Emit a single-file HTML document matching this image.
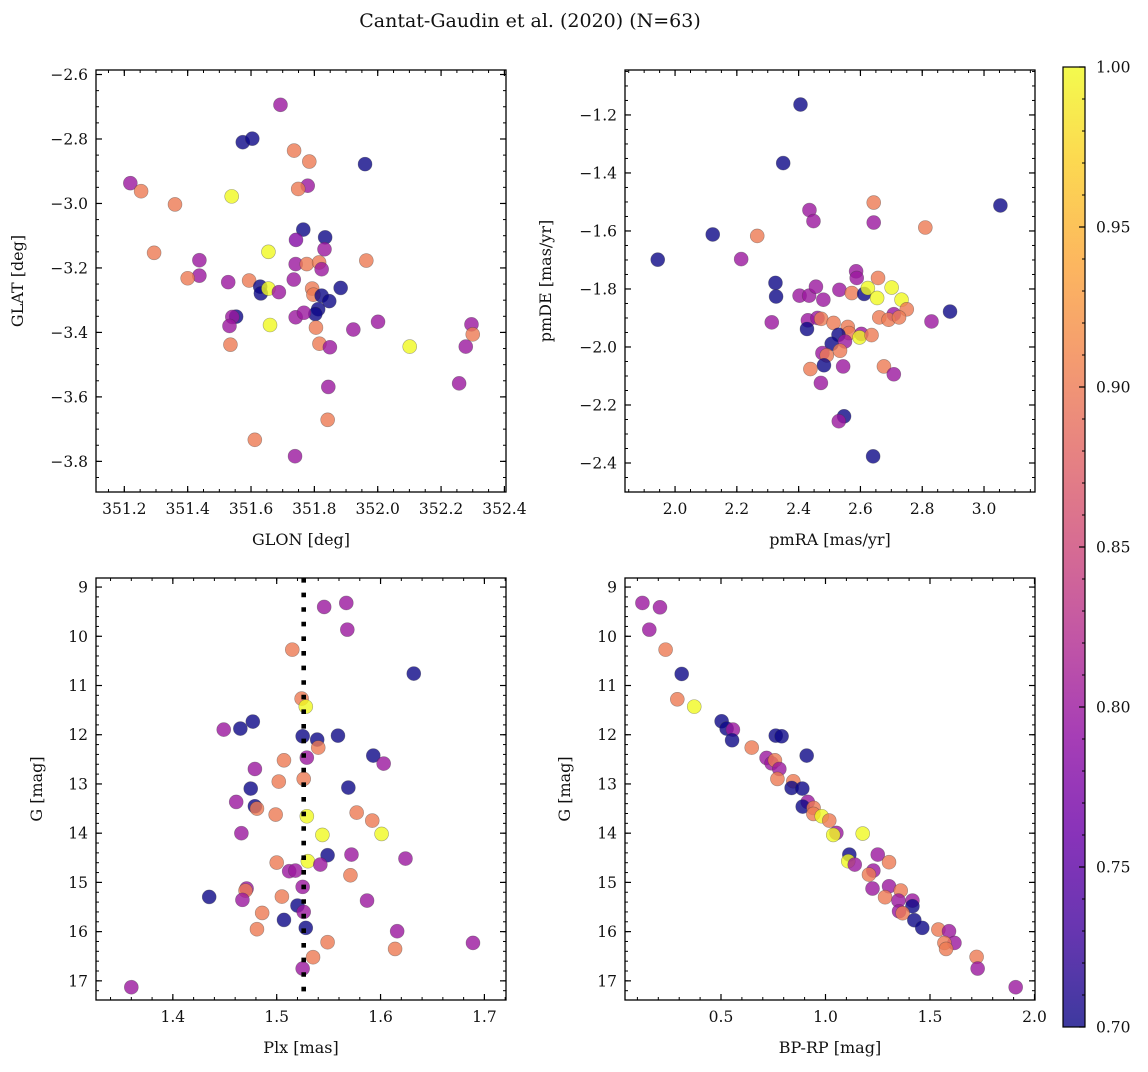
<!DOCTYPE html>
<html><head><meta charset="utf-8">
<style>
body{margin:0;background:#fff;}
svg text{font-family:"DejaVu Serif","Liberation Serif",serif;fill:#111;}
</style></head>
<body>
<svg id="fig" xmlns="http://www.w3.org/2000/svg" width="1148" height="1067" viewBox="0 0 1148 1067">
<defs>
<linearGradient id="plasmaGrad" x1="0" y1="1" x2="0" y2="0">
<stop offset="0" stop-color="#0d0887"/><stop offset="0.1" stop-color="#41049d"/><stop offset="0.2" stop-color="#6a00a8"/><stop offset="0.3" stop-color="#8f0da4"/><stop offset="0.4" stop-color="#b12a90"/><stop offset="0.5" stop-color="#cc4778"/><stop offset="0.6" stop-color="#e16462"/><stop offset="0.7" stop-color="#f2844b"/><stop offset="0.8" stop-color="#fca636"/><stop offset="0.9" stop-color="#fcce25"/><stop offset="1" stop-color="#f0f921"/>
</linearGradient>
</defs>
<text x="530" y="27" font-size="19" text-anchor="middle">Cantat-Gaudin et al. (2020) (N=63)</text>
</svg>
<script>
// ---- data: panel 1 (GLON vs GLAT) ----
const p1x=[351.693,351.574,351.604,351.736,351.784,351.960,351.219,351.253,351.539,351.779,351.749,351.360,351.765,351.834,351.742,351.832,351.294,351.655,351.437,351.741,351.776,351.815,351.823,351.964,351.437,351.400,351.528,351.594,351.735,351.629,351.631,351.655,351.688,351.793,351.797,351.823,351.883,351.847,351.812,351.803,351.553,351.541,351.532,351.741,351.767,351.660,351.805,351.923,352.001,352.296,352.300,351.535,351.816,351.849,352.101,352.278,351.844,352.257,351.842,351.612,351.739];
const p1y=[-2.694,-2.810,-2.799,-2.836,-2.870,-2.878,-2.937,-2.962,-2.978,-2.945,-2.955,-3.003,-3.081,-3.105,-3.113,-3.142,-3.153,-3.150,-3.176,-3.188,-3.188,-3.183,-3.204,-3.177,-3.224,-3.232,-3.244,-3.239,-3.236,-3.258,-3.279,-3.264,-3.275,-3.264,-3.283,-3.286,-3.262,-3.303,-3.328,-3.343,-3.351,-3.352,-3.380,-3.353,-3.339,-3.377,-3.385,-3.391,-3.367,-3.375,-3.406,-3.438,-3.435,-3.446,-3.444,-3.444,-3.569,-3.558,-3.671,-3.733,-3.784];
const p1c=[0.8,0.7,0.7,0.9,0.9,0.7,0.8,0.9,1.0,0.8,0.9,0.9,0.7,0.7,0.78,0.8,0.9,1.0,0.8,0.8,0.9,0.9,0.8,0.9,0.8,0.9,0.8,0.9,0.8,0.7,0.7,1.0,0.8,0.9,0.9,0.7,0.7,0.7,0.68,0.7,0.7,0.8,0.8,0.8,0.8,1.0,0.9,0.8,0.8,0.8,0.9,0.9,0.9,0.8,1.0,0.8,0.8,0.8,0.9,0.9,0.8];
// ---- data: panel 2 (pmRA vs pmDE) ----
const p2x=[2.406,2.350,2.643,3.053,2.435,2.448,2.643,2.810,2.122,2.266,1.944,2.214,2.586,2.325,2.327,2.403,2.434,2.456,2.480,2.532,2.588,2.572,2.612,2.657,2.624,2.701,2.654,2.733,2.750,2.708,2.661,2.691,2.725,2.890,2.830,2.313,2.430,2.427,2.461,2.473,2.513,2.559,2.563,2.529,2.603,2.597,2.636,2.507,2.550,2.534,2.477,2.491,2.482,2.438,2.544,2.676,2.708,2.472,2.547,2.530,2.641];
const p2y=[-1.164,-1.366,-1.502,-1.512,-1.528,-1.566,-1.571,-1.588,-1.612,-1.617,-1.699,-1.697,-1.739,-1.779,-1.826,-1.823,-1.823,-1.792,-1.837,-1.803,-1.762,-1.814,-1.817,-1.762,-1.797,-1.795,-1.831,-1.837,-1.870,-1.887,-1.898,-1.906,-1.898,-1.878,-1.912,-1.915,-1.908,-1.938,-1.900,-1.903,-1.917,-1.931,-1.952,-1.958,-1.955,-1.967,-1.959,-1.989,-1.981,-2.013,-2.021,-2.029,-2.063,-2.076,-2.067,-2.067,-2.094,-2.124,-2.239,-2.256,-2.377];
const p2c=[0.7,0.7,0.9,0.7,0.8,0.8,0.8,0.9,0.7,0.9,0.7,0.8,0.8,0.7,0.7,0.8,0.8,0.8,0.8,0.8,0.8,0.9,0.7,0.9,1.0,1.0,1.0,1.0,0.9,0.8,0.9,0.9,0.9,0.7,0.8,0.8,0.8,0.7,0.8,0.9,0.9,0.9,0.9,0.7,0.8,1.0,0.9,0.7,0.8,0.9,0.8,0.9,0.7,0.9,0.8,0.9,0.8,0.8,0.7,0.8,0.7];
// ---- data: panel 3 (Plx vs G) ----
const p3x=[1.5457,1.567,1.568,1.515,1.632,1.524,1.528,1.449,1.465,1.477,1.525,1.539,1.559,1.540,1.529,1.507,1.593,1.603,1.479,1.502,1.526,1.475,1.569,1.461,1.479,1.481,1.499,1.529,1.577,1.592,1.466,1.544,1.601,1.549,1.572,1.624,1.500,1.530,1.542,1.512,1.518,1.571,1.525,1.471,1.470,1.435,1.467,1.505,1.587,1.520,1.526,1.486,1.507,1.528,1.481,1.616,1.549,1.689,1.614,1.535,1.525,1.360];
const p3y=[9.404,9.323,9.865,10.271,10.758,11.266,11.429,11.896,11.875,11.733,12.031,12.099,12.018,12.261,12.465,12.519,12.424,12.586,12.695,12.952,12.898,13.094,13.074,13.365,13.453,13.500,13.622,13.656,13.582,13.744,14.001,14.035,14.015,14.448,14.435,14.516,14.597,14.570,14.638,14.773,14.760,14.855,15.091,15.125,15.166,15.295,15.355,15.288,15.369,15.471,15.599,15.620,15.762,15.924,15.951,15.992,16.215,16.229,16.351,16.520,16.750,17.129];
const p3c=[0.8,0.8,0.8,0.9,0.7,0.9,1.0,0.8,0.7,0.7,0.7,0.7,0.7,0.9,0.8,0.9,0.7,0.8,0.8,0.9,0.9,0.7,0.7,0.8,0.7,0.9,0.9,1.0,0.9,0.9,0.8,1.0,1.0,0.7,0.8,0.8,0.9,1.0,0.8,0.8,0.8,0.9,0.8,0.8,0.9,0.7,0.8,0.9,0.8,0.7,0.8,0.9,0.7,0.7,0.9,0.8,0.9,0.8,0.9,0.9,0.8,0.8];
const plxMedian=[1.526];
// ---- data: panel 4 (BP-RP vs G) ----
const p4x=[0.124,0.208,0.157,0.235,0.312,0.291,0.372,0.503,0.527,0.557,0.553,0.762,0.790,0.647,0.910,0.718,0.742,0.758,0.779,0.770,0.846,0.838,0.889,0.915,0.891,0.943,0.942,0.982,1.018,1.052,1.037,1.178,1.114,1.250,1.109,1.140,1.304,1.229,1.208,1.225,1.304,1.360,1.285,1.349,1.416,1.416,1.352,1.369,1.425,1.463,1.540,1.591,1.617,1.569,1.577,1.723,1.728,1.910];
const p4y=[9.323,9.411,9.865,10.271,10.765,11.280,11.429,11.726,11.875,11.896,12.112,12.018,12.031,12.261,12.424,12.471,12.580,12.519,12.695,12.898,12.945,13.081,13.094,13.365,13.460,13.487,13.609,13.656,13.744,13.995,14.035,14.008,14.435,14.435,14.570,14.638,14.590,14.760,14.841,15.125,15.078,15.166,15.301,15.369,15.369,15.484,15.586,15.626,15.768,15.924,15.958,15.992,16.229,16.229,16.351,16.513,16.750,17.129];
const p4c=[0.8,0.8,0.8,0.9,0.7,0.9,1.0,0.7,0.7,0.8,0.7,0.7,0.7,0.9,0.7,0.8,0.8,0.9,0.8,0.9,0.9,0.7,0.7,0.8,0.7,0.9,0.9,1.0,0.9,0.8,1.0,1.0,0.7,0.8,1.0,0.8,0.9,0.8,0.9,0.8,0.8,0.9,0.9,0.8,0.8,0.7,0.8,0.9,0.7,0.7,0.9,0.8,0.8,0.9,0.9,0.9,0.8,0.8];
// ---- tick labels ----
const p1xTicks=[351.2,351.4,351.6,351.8,352.0,352.2,352.4];
const p1yTicks=[-2.6,-2.8,-3.0,-3.2,-3.4,-3.6,-3.8];
const p2xTicks=[2.0,2.2,2.4,2.6,2.8,3.0];
const p2yTicks=[-1.2,-1.4,-1.6,-1.8,-2.0,-2.2,-2.4];
const p3xTicks=[1.4,1.5,1.6,1.7];
const gTicks=[9,10,11,12,13,14,15,16,17];
const p4xTicks=[0.5,1.0,1.5,2.0];
const cbTicks=[0.70,0.75,0.80,0.85,0.90,0.95,1.00];

const NS="http://www.w3.org/2000/svg";
const svg=document.getElementById('fig');
function el(tag,attrs,parent){const e=document.createElementNS(NS,tag);for(const k in attrs)e.setAttribute(k,attrs[k]);(parent||svg).appendChild(e);return e;}
const stops=[[13,8,135],[65,4,157],[106,0,168],[143,13,164],[177,42,144],[204,71,120],[225,100,98],[242,132,75],[252,166,54],[252,206,37],[240,249,33]];
function plasma(t){t=Math.max(0,Math.min(1,t));const f=t*10,i=Math.min(9,Math.floor(f)),r=f-i;const a=stops[i],b=stops[i+1];return 'rgb('+[0,1,2].map(k=>Math.round(a[k]+(b[k]-a[k])*r)).join(',')+')';}
function fmtNum(v,d){const s=Math.abs(v).toFixed(d);return (v<0?'\u2212':'')+s;}

function panel(name,L,T,W,H,x0,x1,y0,y1,xt,xd,xminor,yt,yd,yminor,xlabel,ylabel,ylx){
  const g=el('g',{});
  
  
  const sx=v=>L+(v-x0)/(x1-x0)*W, sy=v=>T+(v-y0)/(y1-y0)*H;
  const mg=el('g',{stroke:'#000','stroke-width':1},g);
  
  
  const xa=Math.min(x0,x1),xb=Math.max(x0,x1);
  for(let v=Math.ceil(xa/xminor)*xminor;v<=xb+1e-9;v+=xminor){const x=sx(v);el('line',{x1:x,x2:x,y1:T+H,y2:T+H-3},mg);el('line',{x1:x,x2:x,y1:T,y2:T+3},mg);}
  const ya=Math.min(y0,y1),yb=Math.max(y0,y1);
  for(let v=Math.ceil(ya/yminor)*yminor;v<=yb+1e-9;v+=yminor){const y=sy(v);el('line',{x1:L,x2:L+3,y1:y,y2:y},mg);el('line',{x1:L+W,x2:L+W-3,y1:y,y2:y},mg);}
  xt.forEach(v=>{const x=sx(v);el('line',{x1:x,x2:x,y1:T+H,y2:T+H-6,stroke:'#000','stroke-width':1.2},g);el('line',{x1:x,x2:x,y1:T,y2:T+6,stroke:'#000','stroke-width':1.2},g);
    const t=el('text',{x:x,y:T+H+22,'font-size':15.5,'text-anchor':'middle'},g);t.textContent=fmtNum(v,xd);
    
    });
  yt.forEach(v=>{const y=sy(v);el('line',{x1:L,x2:L+6,y1:y,y2:y,stroke:'#000','stroke-width':1.2},g);el('line',{x1:L+W,x2:L+W-6,y1:y,y2:y,stroke:'#000','stroke-width':1.2},g);
    const t=el('text',{x:L-8,y:y+5.5,'font-size':15.5,'text-anchor':'end'},g);t.textContent=fmtNum(v,yd);
    
    });
  const xl=el('text',{x:L+W/2,y:T+H+53,'font-size':16,'text-anchor':'middle'},g);xl.textContent=xlabel;
  
  
  const yl=el('text',{x:ylx,y:T+H/2,'font-size':16,'text-anchor':'middle',transform:'rotate(-90 '+ylx+' '+(T+H/2)+')'},g);yl.textContent=ylabel;
  
  
  const clip='clip-'+name;const cp=el('clipPath',{id:clip},g);el('rect',{x:L,y:T,width:W,height:H},cp);
  const plot=el('g',{'clip-path':'url(#'+clip+')'},g);
  
  
  return {g,plot,sx,sy,frame:()=>{const f=el('rect',{x:L,y:T,width:W,height:H,fill:'none',stroke:'#000','stroke-width':1.3},g);}};
}
function scatter(P,xs,ys,cs){
  for(let i=0;i<Math.min(xs.length,ys.length,cs.length);i++){
    const c=el('circle',{cx:P.sx(xs[i]),cy:P.sy(ys[i]),r:7,fill:plasma((cs[i]-0.7)/0.3),'fill-opacity':0.8,stroke:'rgba(60,60,60,0.45)','stroke-width':0.6},P.plot);
    
    
  }
}
const A=panel('panel-glon-glat',96,70,410,422,351.1106,352.405,-2.586,-3.895,p1xTicks,1,0.05,p1yTicks,1,0.05,'GLON [deg]','GLAT [deg]',23);
scatter(A,p1x,p1y,p1c);A.frame();
const B=panel('panel-pm',625,70,410,422,1.838,3.165,-1.045,-2.500,p2xTicks,1,0.05,p2yTicks,1,0.05,'pmRA [mas/yr]','pmDE [mas/yr]',551);
scatter(B,p2x,p2y,p2c);B.frame();
const C=panel('panel-plx-g',96,578,410,422,1.326,1.7208,8.816,17.389,p3xTicks,1,0.02,gTicks,0,0.2,'Plx [mas]','G [mag]',42);
scatter(C,p3x,p3y,p3c);
const ml=el('line',{x1:C.sx(plxMedian[0]),x2:C.sx(plxMedian[0]),y1:578,y2:1000,stroke:'#000','stroke-width':4.6,'stroke-dasharray':'4.6 10'},C.plot);


C.frame();
const D=panel('panel-cmd',625,578,410,422,0.0407,2.0024,8.816,17.389,p4xTicks,1,0.1,gTicks,0,0.2,'BP-RP [mag]','G [mag]',570);
scatter(D,p4x,p4y,p4c);D.frame();

const cb=el('g',{});


const cbT=67,cbB=1027,cbL=1063,cbW=22;
el('rect',{x:cbL,y:cbT,width:cbW,height:cbB-cbT,fill:'url(#plasmaGrad)','fill-opacity':0.8},cb);
el('rect',{x:cbL,y:cbT,width:cbW,height:cbB-cbT,fill:'none',stroke:'#000','stroke-width':1.2},cb);
const cy=v=>cbB-(v-0.7)/0.3*(cbB-cbT);
for(let v=0.70;v<=1.0001;v+=0.01){el('line',{x1:cbL+cbW,x2:cbL+cbW-3,y1:cy(v),y2:cy(v),stroke:'#000','stroke-width':1},cb);}
cbTicks.forEach(v=>{const y=cy(v);el('line',{x1:cbL+cbW,x2:cbL+cbW-6,y1:y,y2:y,stroke:'#000','stroke-width':1.2},cb);
  const t=el('text',{x:cbL+cbW+11,y:y+5.5,'font-size':15.5},cb);t.textContent=v.toFixed(2);
  
  });
</script>
</body></html>
